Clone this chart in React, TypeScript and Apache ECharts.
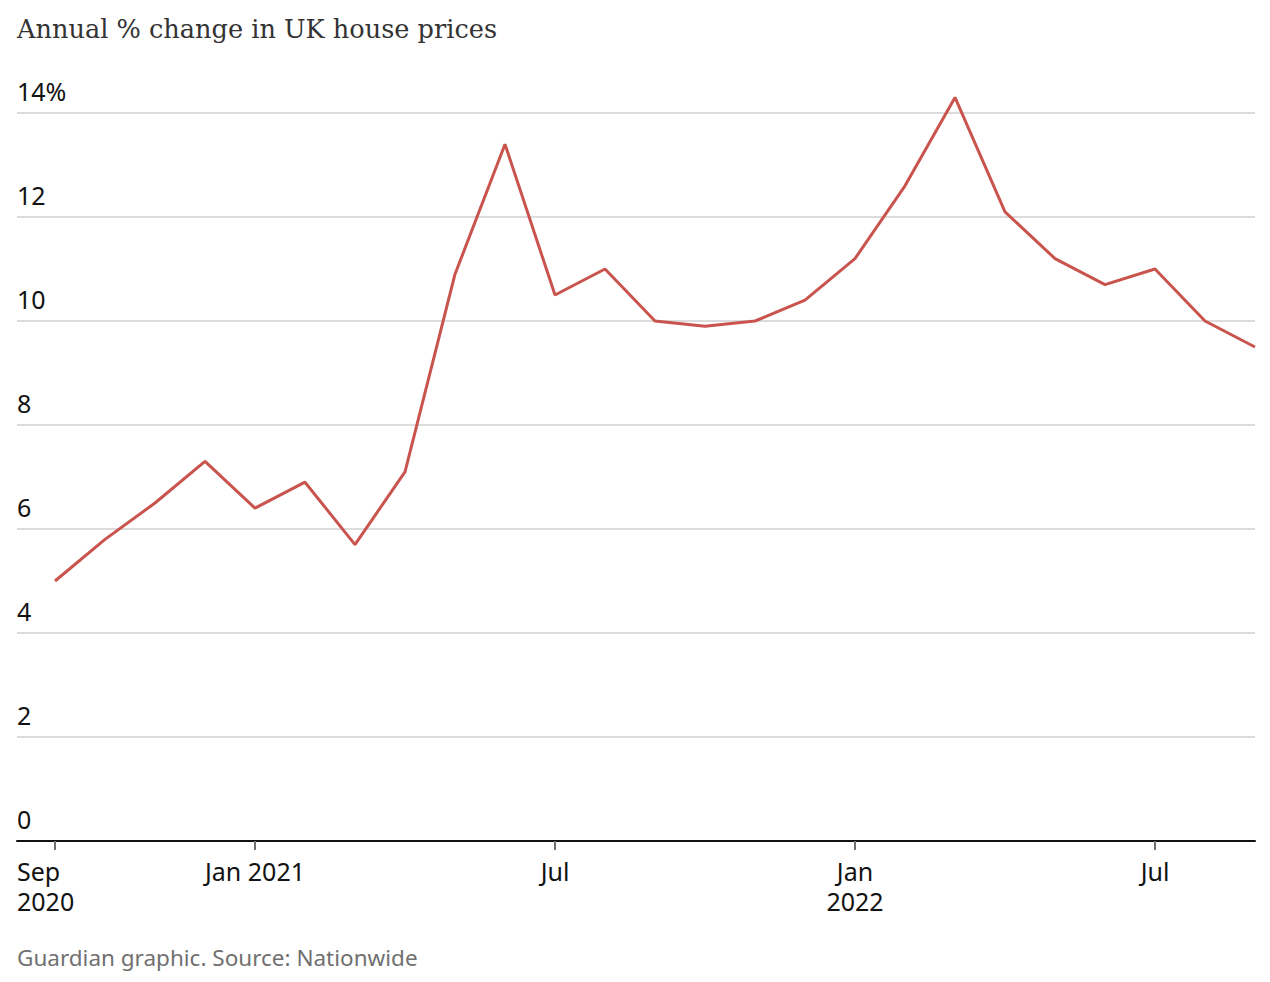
import React, { useEffect, useRef } from "react";
import * as echarts from "echarts";

const months = [
  "Sep 2020", "Oct 2020", "Nov 2020", "Dec 2020",
  "Jan 2021", "Feb 2021", "Mar 2021", "Apr 2021", "May 2021", "Jun 2021",
  "Jul 2021", "Aug 2021", "Sep 2021", "Oct 2021", "Nov 2021", "Dec 2021",
  "Jan 2022", "Feb 2022", "Mar 2022", "Apr 2022", "May 2022", "Jun 2022",
  "Jul 2022", "Aug 2022", "Sep 2022",
];
const annualChange = [
  5.0, 5.8, 6.5, 7.3,
  6.4, 6.9, 5.7, 7.1, 10.9, 13.4,
  10.5, 11.0, 10.0, 9.9, 10.0, 10.4,
  11.2, 12.6, 14.3, 12.1, 11.2, 10.7,
  11.0, 10.0, 9.5,
];
const xTickIndices = [0, 4, 10, 16, 22];
const xTickLabels = ["Sep\n2020", "Jan 2021", "Jul", "Jan\n2022", "Jul"];
const yTicks = [0, 2, 4, 6, 8, 10, 12, 14];

const SANS = "'Noto Sans', 'Open Sans', sans-serif";

export default function App() {
  const ref = useRef<HTMLDivElement>(null);
  useEffect(() => {
    document.body.style.margin = "0";
    if (!ref.current) return;
    const chart = echarts.init(ref.current, null, { renderer: "svg" });
    const data = annualChange.map((v, i) => [i, v]);
    chart.setOption({
      animation: false,
      backgroundColor: "#ffffff",
      title: {
        text: "Annual % change in UK house prices",
        left: 12,
        top: 11,
        textStyle: {
          fontFamily: "'DejaVu Serif', serif",
          fontSize: 25.6,
          fontWeight: "normal",
          color: "#333333",
        },
      },
      grid: { left: 17, right: 15, top: 113, bottom: 141, containLabel: false },
      xAxis: {
        type: "value",
        min: -0.76,
        max: 24,
        splitLine: { show: false },
        axisLine: { show: true, onZero: false, lineStyle: { color: "#121212", width: 2 } },
        axisTick: {
          show: true,
          customValues: xTickIndices,
          length: 9,
          lineStyle: { color: "#707070", width: 2 },
        },
        axisLabel: {
          customValues: xTickIndices,
          margin: 15,
          color: "#121212",
          fontFamily: SANS,
          fontSize: 25,
          lineHeight: 30,
          formatter: (v: number) => {
            const k = xTickIndices.indexOf(Math.round(v));
            if (k < 0) return "";
            if (k === 0) return "{l|" + xTickLabels[k].replace("\n", "}\n{l|") + "}";
            return xTickLabels[k];
          },
          rich: {
            l: {
              width: 76,
              align: "left",
              fontFamily: SANS,
              fontSize: 25,
              lineHeight: 30,
              color: "#121212",
            },
          },
        },
      },
      yAxis: {
        type: "value",
        min: 0,
        max: 14,
        interval: 2,
        axisLine: { show: false },
        axisTick: { show: false },
        splitLine: { show: true, lineStyle: { color: "#dcdcdc", width: 2 } },
        axisLabel: {
          inside: true,
          margin: 0,
          align: "left",
          verticalAlign: "bottom",
          padding: [0, 0, 10, 0],
          color: "#121212",
          fontFamily: SANS,
          fontSize: 25,
          formatter: (v: number) => (v === yTicks[yTicks.length - 1] ? v + "%" : String(v)),
        },
      },
      series: [
        {
          type: "line",
          name: "Annual % change",
          data,
          symbol: "none",
          clip: false,
          lineStyle: { color: "#c9544e", width: 3 },
          itemStyle: { color: "#c9544e" },
          z: 5,
        },
      ],
      graphic: [
        {
          type: "text",
          left: 17,
          top: 946,
          style: {
            text: "Guardian graphic. Source: Nationwide",
            fill: "#707070",
            fontFamily: SANS,
            fontSize: 22.5,
          },
        },
      ],
    });
    return () => chart.dispose();
  }, []);
  return <div ref={ref} style={{ width: 1270, height: 982 }} />;
}
